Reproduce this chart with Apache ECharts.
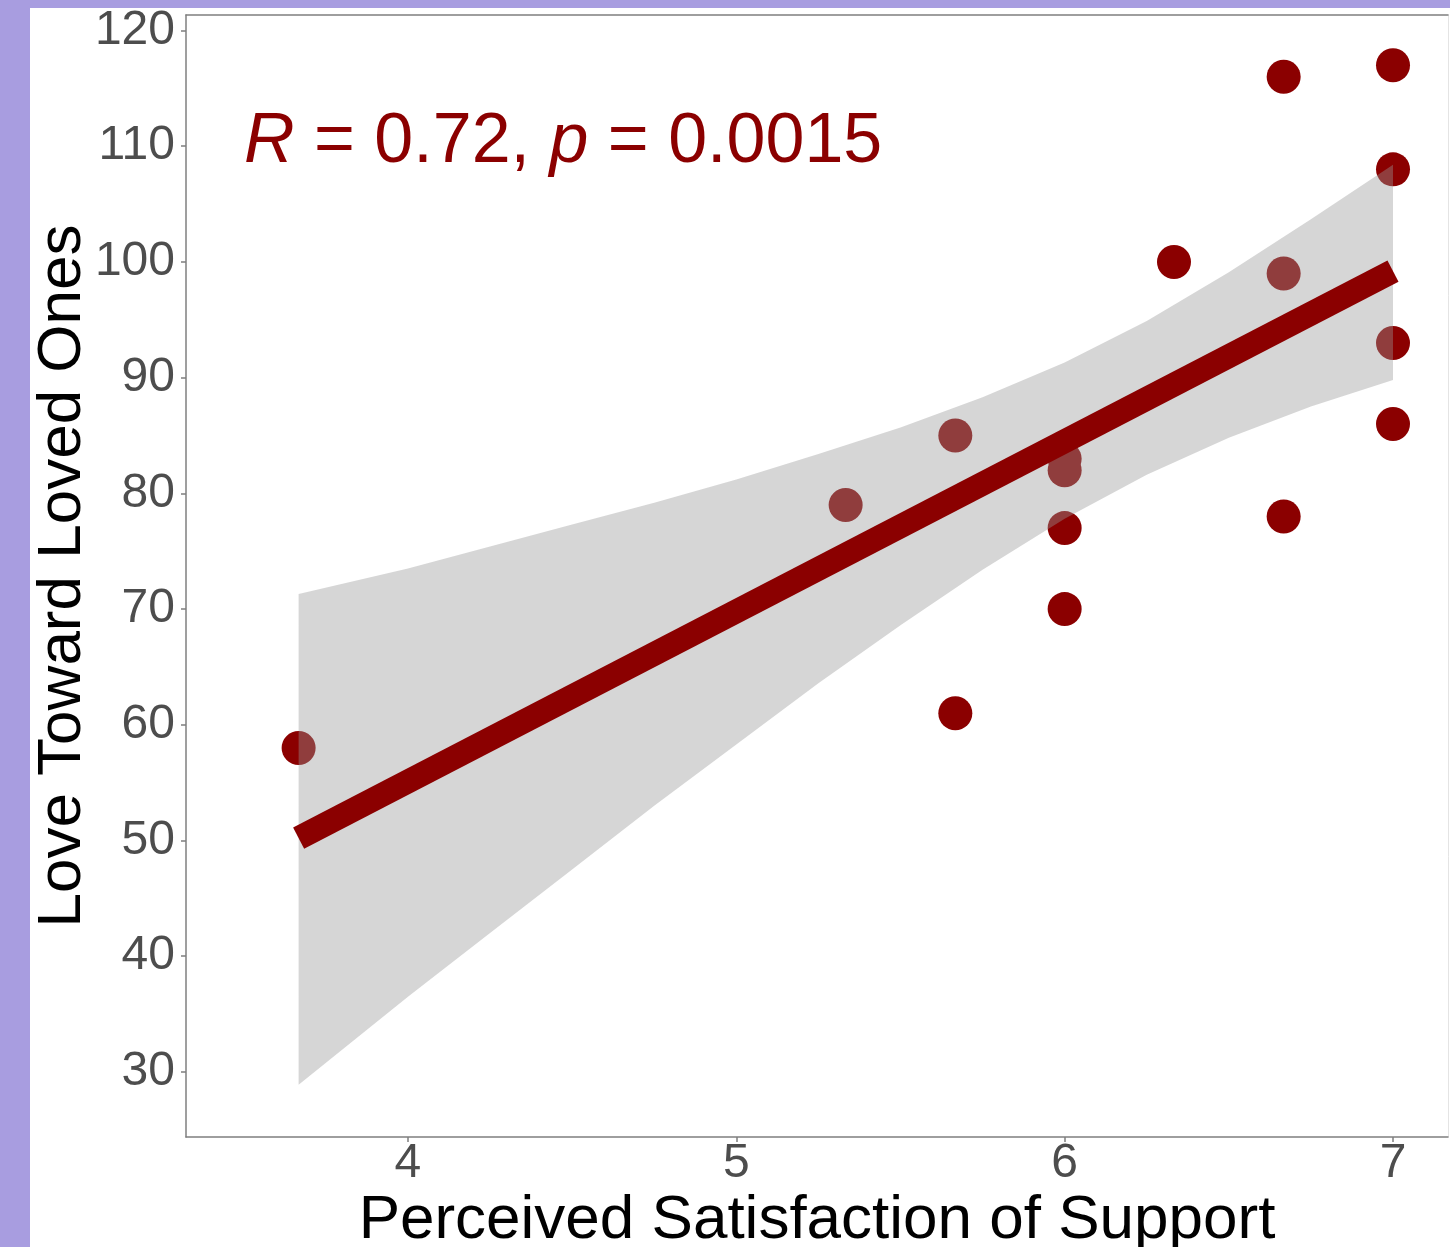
<!DOCTYPE html>
<html>
<head>
<meta charset="utf-8">
<title>Love Toward Loved Ones vs Perceived Satisfaction of Support</title>
<script src="https://cdn.jsdelivr.net/npm/echarts@6/dist/echarts.min.js"></script>
<style>
  html, body { margin: 0; padding: 0; background: #A89DE0; }
  #chart { width: 1450px; height: 1247px; }
</style>
</head>
<body>
<div id="chart"></div>
<script>
// Observed participants
const satisfaction = [3.667, 5.667, 5.667, 5.333, 6, 6, 6, 6, 6.333, 6.667, 6.667, 6.667, 7, 7, 7, 7];
const love = [58, 61, 85, 79, 83, 82, 77, 70, 100, 116, 99, 78, 117, 108, 93, 86];

// Linear fit (end points) and its 95% confidence band
const fitX = [3.667, 7];
const fitY = [50.2, 99.2];
const bandX = [3.667, 4.0, 4.25, 4.5, 4.75, 5.0, 5.25, 5.5, 5.75, 6.0, 6.25, 6.5, 6.75, 7.0];
const bandLow = [28.9, 36.5, 42.0, 47.5, 53.0, 58.3, 63.6, 68.6, 73.4, 77.8, 81.6, 84.8, 87.5, 89.8];
const bandHigh = [71.3, 73.5, 75.4, 77.3, 79.2, 81.2, 83.4, 85.7, 88.3, 91.3, 94.9, 99.1, 103.7, 108.4];

// Axis ticks
const xTicks = [4, 5, 6, 7];
const yTicks = [30, 40, 50, 60, 70, 80, 90, 100, 110, 120];

const annotation = 'R = 0.72, p = 0.0015';

const red = '#8B0000';
const axisGrey = '#7f7f7f';
const labelGrey = '#4D4D4D';
const font = '"Liberation Sans", Arial, sans-serif';

const chart = echarts.init(document.getElementById('chart'), null, { renderer: 'canvas' });

const annParts = annotation.split(/(R|p)(?= =)/);

chart.setOption({
  backgroundColor: '#A89DE0',
  animation: false,
  graphic: [
    {
      type: 'rect', left: 30, top: 8, z: -10,
      shape: { width: 1420, height: 1239 },
      style: { fill: '#ffffff' },
      silent: true
    },
    {
      type: 'text', left: 244, top: 108, z: 50,
      style: {
        text: annParts.map(p => (p === 'R' || p === 'p') ? '{i|' + p + '}' : '{n|' + p + '}').join(''),
        rich: {
          i: { fontFamily: font, fontSize: 70, fontStyle: 'italic', fill: red, lineHeight: 72 },
          n: { fontFamily: font, fontSize: 70, fill: red, lineHeight: 72 }
        }
      }
    }
  ],
  grid: { left: 186, top: 15, right: 2, bottom: 110, containLabel: false, outerBoundsMode: 'none' },
  xAxis: [
    {
      type: 'value', min: 3.324, max: 7.1675, position: 'bottom',
      name: 'Perceived Satisfaction of Support', nameLocation: 'middle', nameGap: 53,
      nameMoveOverlap: false,
      nameTextStyle: { fontFamily: font, fontSize: 62, color: '#000000' },
      axisLine: { show: true, lineStyle: { color: axisGrey, width: 1.5 } },
      axisTick: { show: true, length: 5, customValues: xTicks, lineStyle: { color: axisGrey, width: 1.5 } },
      axisLabel: { customValues: xTicks, fontFamily: font, fontSize: 48, color: labelGrey, margin: 3 },
      splitLine: { show: false }
    },
    {
      type: 'value', min: 3.324, max: 7.1675, position: 'top',
      axisLine: { show: true, lineStyle: { color: axisGrey, width: 1.5 } },
      axisTick: { show: false }, axisLabel: { show: false }, splitLine: { show: false }
    }
  ],
  yAxis: [
    {
      type: 'value', min: 24.38, max: 121.34, position: 'left',
      name: 'Love Toward Loved Ones', nameLocation: 'middle', nameGap: 92, nameRotate: 90,
      nameMoveOverlap: false,
      nameTextStyle: { fontFamily: font, fontSize: 62, color: '#000000' },
      axisLine: { show: true, lineStyle: { color: axisGrey, width: 1.5 } },
      axisTick: { show: true, length: 5, customValues: yTicks, lineStyle: { color: axisGrey, width: 1.5 } },
      axisLabel: { customValues: yTicks, fontFamily: font, fontSize: 48, color: labelGrey, margin: 11 },
      splitLine: { show: false }
    },
    {
      type: 'value', min: 24.38, max: 121.34, position: 'right',
      axisLine: { show: true, lineStyle: { color: '#e4e4e4', width: 1 } },
      axisTick: { show: false }, axisLabel: { show: false }, splitLine: { show: false }
    }
  ],
  series: [
    {
      type: 'scatter', z: 2,
      symbol: 'circle', symbolSize: 34,
      itemStyle: { color: red, opacity: 1 },
      data: satisfaction.map((x, i) => [x, love[i]])
    },
    {
      type: 'custom', z: 3, silent: true,
      data: bandX.map((x, i) => [x, bandLow[i], bandHigh[i]]),
      encode: { x: 0, y: [1, 2] },
      renderItem: function (params, api) {
        if (params.dataIndex !== 0) return null;
        const pts = [];
        for (let i = 0; i < bandX.length; i++) pts.push(api.coord([bandX[i], bandHigh[i]]));
        for (let i = bandX.length - 1; i >= 0; i--) pts.push(api.coord([bandX[i], bandLow[i]]));
        return { type: 'polygon', shape: { points: pts }, style: { fill: 'rgba(153,153,153,0.4)' } };
      }
    },
    {
      type: 'line', z: 4, symbol: 'none', silent: true,
      lineStyle: { color: red, width: 24, cap: 'butt' },
      data: fitX.map((x, i) => [x, fitY[i]])
    }
  ]
});
</script>
</body>
</html>
